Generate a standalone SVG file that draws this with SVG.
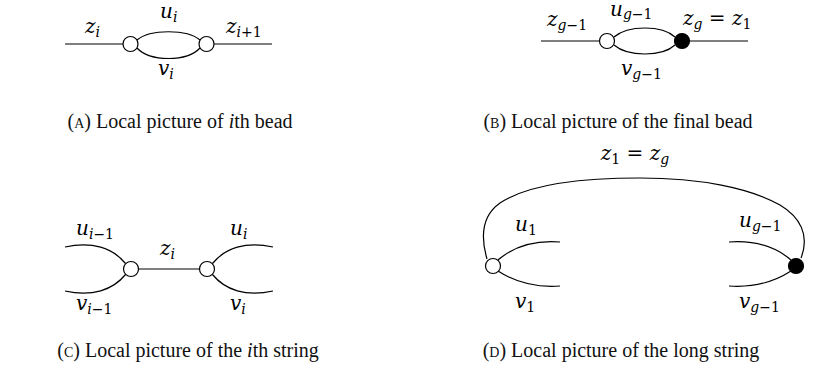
<svg xmlns="http://www.w3.org/2000/svg" width="816" height="377" viewBox="0 0 816 377">
<style>
.e{fill:none;stroke:#000;stroke-width:1.2}
.w{fill:#fff;stroke:#000;stroke-width:1.2}
.b{fill:#000;stroke:#000;stroke-width:1.2}
.m{font-family:"DejaVu Serif","Liberation Serif",serif;font-style:italic;font-size:20px;fill:#000}
.s{font-size:14px}
.r{font-style:normal}
.c{font-family:"Liberation Serif",serif;font-size:20px;fill:#111;text-anchor:middle}
.sc{font-size:14px}
.i{font-style:italic}
</style>
<rect width="816" height="377" fill="#fff"/>
<g id="connectors">
<path class="e" d="M65,44H123M214,44H272M137,40C150,29 187,29 200,40M137,48C150,62 187,62 200,48"/>
<path class="e" d="M541,41H599M690,41H748M614,37C628,25 662,25 675,37M614,45C628,57 662,57 675,45"/>
<path class="e" d="M138.5,269H199.5M65,247C92,241 113,248 125.5,263.5M65,291C92,297 113,290 125.5,274.5M273,247C246,241 225,248 212.5,263.5M273,291C246,297 225,290 212.5,274.5"/>
<path class="e" d="M487,259C480,235 483,215 500,203C530,183 590,178 640,178C700,178 750,188 780,205C800,217 810,235 801,258"/>
<path class="e" d="M560,242C533,240 512,248 498,260M560,286C533,288 512,280 498,271M729,242C756,240 777,248 791,260M729,286C756,288 777,280 791,271"/>
</g>
<g id="nodeA1"><circle class="w" cx="130.5" cy="44" r="7.5"/></g>
<g id="nodeA2"><circle class="w" cx="206.5" cy="44" r="7.5"/></g>
<g id="nodeB1"><circle class="w" cx="607" cy="41" r="7.5"/></g>
<g id="nodeB2"><circle class="b" cx="682" cy="41" r="7.5"/></g>
<g id="nodeC1"><circle class="w" cx="131" cy="269" r="7.5"/></g>
<g id="nodeC2"><circle class="w" cx="207" cy="269" r="7.5"/></g>
<g id="nodeD1"><circle class="w" cx="493" cy="266" r="7.5"/></g>
<g id="nodeD2"><circle class="b" cx="796" cy="266" r="7.5"/></g>
<g id="labels">
<text class="m" x="85" y="33">z<tspan class="s" dy="4">i</tspan></text>
<text class="m" x="160" y="18">u<tspan class="s" dy="4">i</tspan></text>
<text class="m" x="226" y="33">z<tspan class="s" dy="4">i<tspan class="r">+1</tspan></tspan></text>
<text class="m" x="158" y="75">v<tspan class="s" dy="4">i</tspan></text>
<text class="m" x="547" y="26">z<tspan class="s" dy="4">g<tspan class="r">−1</tspan></tspan></text>
<text class="m" x="610" y="16">u<tspan class="s" dy="3">g<tspan class="r">−1</tspan></tspan></text>
<text class="m" x="683" y="25">z<tspan class="s" dy="4">g</tspan><tspan class="r" dy="-4"> = </tspan>z<tspan class="s r" dy="4">1</tspan></text>
<text class="m" x="621" y="75">v<tspan class="s" dy="4">g<tspan class="r">−1</tspan></tspan></text>
<text class="m" x="76" y="235">u<tspan class="s" dy="4">i<tspan class="r">−1</tspan></tspan></text>
<text class="m" x="160" y="255">z<tspan class="s" dy="4">i</tspan></text>
<text class="m" x="230" y="235">u<tspan class="s" dy="4">i</tspan></text>
<text class="m" x="76" y="310">v<tspan class="s" dy="4">i<tspan class="r">−1</tspan></tspan></text>
<text class="m" x="230" y="310">v<tspan class="s" dy="4">i</tspan></text>
<text class="m" x="635" y="160" text-anchor="middle">z<tspan class="s r" dy="4">1</tspan><tspan class="r" dy="-4"> = </tspan>z<tspan class="s" dy="4">g</tspan></text>
<text class="m" x="515" y="231">u<tspan class="s r" dy="4">1</tspan></text>
<text class="m" x="515" y="308">v<tspan class="s r" dy="4">1</tspan></text>
<text class="m" x="739" y="227">u<tspan class="s" dy="4">g<tspan class="r">−1</tspan></tspan></text>
<text class="m" x="739" y="308">v<tspan class="s" dy="4">g<tspan class="r">−1</tspan></tspan></text>
</g>
<g id="captions">
<text class="c" x="180" y="128">(<tspan class="sc">A</tspan>) Local picture of <tspan class="i">i</tspan>th bead</text>
<text class="c" x="618" y="128">(<tspan class="sc">B</tspan>) Local picture of the final bead</text>
<text class="c" x="188" y="357">(<tspan class="sc">C</tspan>) Local picture of the <tspan class="i">i</tspan>th string</text>
<text class="c" x="621" y="357">(<tspan class="sc">D</tspan>) Local picture of the long string</text>
</g>
</svg>
